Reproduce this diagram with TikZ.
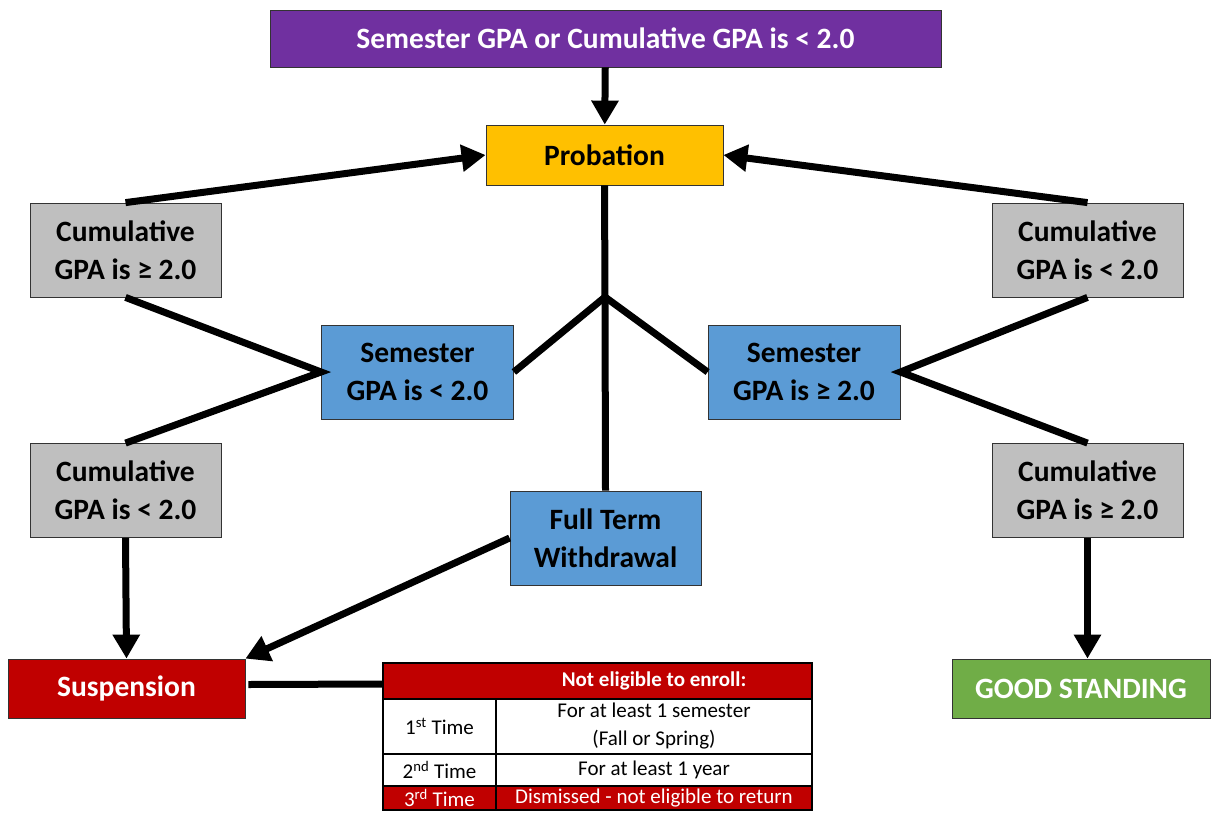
\documentclass[tikz,border=0pt]{standalone}
\usepackage{fontspec}
\setmainfont{Carlito}
\usetikzlibrary{arrows.meta}

\definecolor{gpapurple}{HTML}{7030A0}
\definecolor{probgold}{HTML}{FFC000}
\definecolor{cumgray}{HTML}{BFBFBF}
\definecolor{semblue}{HTML}{5B9BD5}
\definecolor{susred}{HTML}{C00000}
\definecolor{goodgreen}{HTML}{70AD47}

\begin{document}
\begin{tikzpicture}[x=1pt,y=-1pt,
    box/.style={draw=black!80,line width=0.8pt,inner sep=0pt,align=center,
        font=\fontsize{29.5}{38}\selectfont\bfseries},
    graybox/.style={box,fill=cumgray,minimum width=191pt,minimum height=94pt},
    bluebox/.style={box,fill=semblue,minimum width=192pt,minimum height=94pt},
    cell/.style={draw=black,line width=1.5pt,inner sep=0pt,align=center,
        font=\fontsize{21}{28}\selectfont},
    link/.style={line width=7pt},
    arr/.style={link,-{Triangle[length=24pt,width=26pt]}}]
\useasboundingbox (0,0) rectangle (1211,812);

\node[box,fill=gpapurple,text=white,minimum width=671pt,minimum height=57pt] (top) at (605.5,38.5) {Semester GPA or Cumulative GPA is < 2.0};
\node[box,fill=probgold,minimum width=237pt,minimum height=60pt] (prob) at (604.5,155) {Probation};

\node[graybox] (cumLA) at (125.5,250) {Cumulative\\GPA is ≥ 2.0};
\node[graybox] (cumRA) at (1087.5,250) {Cumulative\\GPA is < 2.0};
\node[bluebox] (semL) at (417.5,372) {Semester\\GPA is < 2.0};
\node[bluebox] (semR) at (804,372) {Semester\\GPA is ≥ 2.0};
\node[graybox] (cumLB) at (125.5,490.5) {Cumulative\\GPA is < 2.0};
\node[graybox] (cumRB) at (1087.5,490.5) {Cumulative\\GPA is ≥ 2.0};
\node[bluebox,minimum width=191pt] (wd) at (605.5,538) {Full Term\\Withdrawal};

\node[box,fill=susred,text=white,minimum width=237pt,minimum height=59pt] (susp) at (126.5,688.5) {Suspension};
\node[box,fill=goodgreen,text=white,minimum width=258pt,minimum height=59pt] (good) at (1081,688.5) {GOOD STANDING};

% table
\node[cell,fill=susred,minimum width=429pt,minimum height=36pt] (thead) at (597.5,681) {};
\node[cell,draw=none,text=white,font=\fontsize{21}{28}\selectfont\bfseries] (tcap) at (654,681) {Not eligible to enroll:};
\node[cell,minimum width=113pt,minimum height=55pt] (ta) at (439.5,726.5) {1\textsuperscript{st} Time};
\node[cell,minimum width=316pt,minimum height=55pt] (tb) at (654,726.5) {For at least 1 semester\\(Fall or Spring)};
\node[cell,minimum width=113pt,minimum height=32pt] (tc) at (439.5,770) {2\textsuperscript{nd} Time};
\node[cell,minimum width=316pt,minimum height=32pt] (td) at (654,770) {For at least 1 year};
\node[cell,fill=susred,text=white,minimum width=113pt,minimum height=24pt] (te) at (439.5,798) {3\textsuperscript{rd} Time};
\node[cell,fill=susred,text=white,minimum width=316pt,minimum height=24pt] (tf) at (654,798) {Dismissed - not eligible to return};

\coordinate (fork) at (605,297);

\draw[arr] (top) -- (prob);
\draw[arr] (cumLA.north) -- (prob.west);
\draw[arr] (cumRA.north) -- (prob.east);
\draw[link] (prob.south) -- (fork);
\draw[link] (fork) -- (semL.east);
\draw[link] (fork) -- (semR.west);
\draw[link] (fork) -- (wd.north);
\draw[link] (cumLA.south) -- (semL.west) -- (cumLB.north);
\draw[link] (cumRA.south) -- (semR.east) -- (cumRB.north);
\draw[arr] (cumLB.south) -- (susp.north);
\draw[arr] (wd.west) -- (susp.north east);
\draw[arr] (cumRB.south) -- (cumRB.south |- good.north);
\draw[link] (susp.east) ++(3,-4) -- (thead.west |- 0,684);
\end{tikzpicture}
\end{document}
